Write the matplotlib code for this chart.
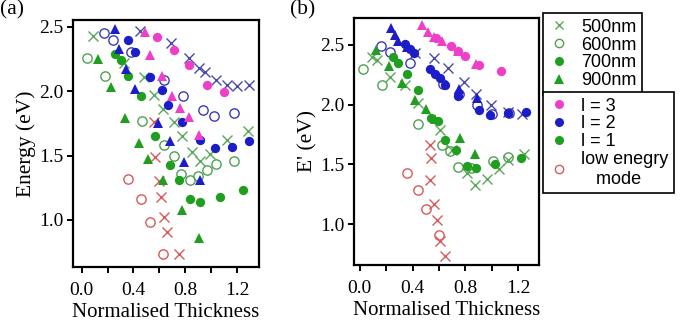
import matplotlib
matplotlib.use("Agg")
import matplotlib.pyplot as plt
from matplotlib.lines import Line2D
from matplotlib.ticker import MultipleLocator, FixedLocator

# ---------------- data: panel (a) ----------------
a_l3_700_x = [0.58, 0.71, 0.83, 0.97, 1.10]
a_l3_700_y = [2.42, 2.32, 2.20, 2.05, 1.99]
a_l3_900_x = [0.49, 0.53, 0.62, 0.70, 0.76, 0.83, 0.91]
a_l3_900_y = [2.46, 2.28, 2.12, 1.96, 1.87, 1.80, 1.66]

a_l2_500_x = [0.45, 0.69, 0.83, 0.91, 0.95, 1.04, 1.12, 1.20, 1.29]
a_l2_500_y = [2.47, 2.37, 2.26, 2.18, 2.15, 2.09, 2.05, 2.04, 2.05]
a_l2_600_x = [0.17, 0.245, 0.38, 0.635, 0.785, 0.94, 1.025, 1.18]
a_l2_600_y = [2.45, 2.40, 2.305, 2.09, 1.965, 1.85, 1.81, 1.83]
a_l2_700_x = [0.36, 0.41, 0.53, 0.62, 0.67, 0.775, 0.915, 1.03, 1.16, 1.29]
a_l2_700_y = [2.40, 2.30, 2.11, 2.01, 1.89, 1.76, 1.62, 1.56, 1.57, 1.61]
a_l2_900_x = [0.26, 0.29, 0.34, 0.41, 0.59, 0.68, 0.79, 0.915]
a_l2_900_y = [2.48, 2.33, 2.175, 2.02, 1.75, 1.61, 1.45, 1.31]

a_l1_500_x = [0.09, 0.33, 0.48, 0.555, 0.63, 0.71, 0.775, 0.855, 0.915, 0.99, 1.125, 1.285]
a_l1_500_y = [2.43, 2.215, 2.11, 1.97, 1.865, 1.76, 1.65, 1.53, 1.46, 1.51, 1.62, 1.69]
a_l1_600_x = [0.04, 0.18, 0.465, 0.635, 0.71, 0.77, 0.84, 0.895, 0.97, 1.035, 1.175]
a_l1_600_y = [2.26, 2.115, 1.77, 1.58, 1.50, 1.355, 1.31, 1.345, 1.385, 1.435, 1.46]
a_l1_700_x = [0.26, 0.30, 0.36, 0.455, 0.565, 0.685, 0.755, 0.84, 0.915, 1.065, 1.25]
a_l1_700_y = [2.29, 2.24, 2.12, 1.96, 1.65, 1.43, 1.31, 1.16, 1.14, 1.175, 1.23]
a_l1_900_x = [0.13, 0.23, 0.335, 0.44, 0.515, 0.625, 0.775, 0.91]
a_l1_900_y = [2.25, 2.03, 1.79, 1.60, 1.47, 1.31, 1.08, 0.86]

a_low_500_x = [0.555, 0.565, 0.595, 0.61, 0.635, 0.66, 0.75]
a_low_500_y = [1.76, 1.49, 1.305, 1.18, 1.02, 0.91, 0.735]
a_low_600_x = [0.36, 0.46, 0.525, 0.628]
a_low_600_y = [1.32, 1.16, 0.985, 0.735]

# ---------------- data: panel (b) ----------------
b_l3_700_x = [0.58, 0.69, 0.745, 0.80, 0.90, 1.07]
b_l3_700_y = [2.56, 2.49, 2.45, 2.41, 2.33, 2.28]
b_l3_900_x = [0.47, 0.52, 0.56, 0.62, 0.74, 0.88]
b_l3_900_y = [2.67, 2.61, 2.57, 2.53, 2.45, 2.34]

b_l2_500_x = [0.42, 0.56, 0.67, 0.79, 0.88, 0.99, 1.12, 1.23]
b_l2_500_y = [2.43, 2.39, 2.31, 2.19, 2.09, 2.00, 1.94, 1.92]
b_l2_600_x = [0.16, 0.23, 0.38, 0.63, 0.75, 0.89, 1.00, 1.13]
b_l2_600_y = [2.49, 2.44, 2.35, 2.17, 2.09, 2.00, 1.92, 1.93]
b_l2_700_x = [0.34, 0.38, 0.41, 0.53, 0.57, 0.61, 0.645, 0.745, 0.90, 0.985, 1.12, 1.255]
b_l2_700_y = [2.51, 2.47, 2.43, 2.30, 2.26, 2.22, 2.165, 2.07, 1.955, 1.915, 1.93, 1.94]
b_l2_900_x = [0.24, 0.265, 0.29, 0.36, 0.75, 0.885]
b_l2_900_y = [2.64, 2.58, 2.53, 2.48, 2.13, 2.06]

b_l1_500_x = [0.09, 0.13, 0.23, 0.34, 0.44, 0.61, 0.70, 0.81, 0.87, 0.96, 1.05, 1.12, 1.24]
b_l1_500_y = [2.40, 2.37, 2.23, 2.165, 2.01, 1.79, 1.62, 1.43, 1.33, 1.38, 1.46, 1.54, 1.59]
b_l1_600_x = [0.025, 0.165, 0.44, 0.62, 0.68, 0.745, 0.84, 1.01, 1.12]
b_l1_600_y = [2.30, 2.165, 1.84, 1.66, 1.61, 1.48, 1.47, 1.53, 1.56]
b_l1_700_x = [0.25, 0.29, 0.355, 0.44, 0.54, 0.59, 0.645, 0.73, 0.81, 0.88, 1.02, 1.22]
b_l1_700_y = [2.40, 2.35, 2.26, 2.12, 1.885, 1.86, 1.70, 1.62, 1.49, 1.47, 1.50, 1.55]
b_l1_900_x = [0.125, 0.22, 0.32, 0.42, 0.50, 0.57, 0.76, 0.875]
b_l1_900_y = [2.46, 2.32, 2.18, 2.04, 1.96, 1.88, 1.72, 1.59]

b_low_500_x = [0.53, 0.54, 0.53, 0.565, 0.585, 0.605, 0.645]
b_low_500_y = [1.66, 1.55, 1.37, 1.17, 1.03, 0.86, 0.735]
b_low_600_x = [0.355, 0.44, 0.505, 0.60]
b_low_600_y = [1.43, 1.285, 1.125, 0.91]

x_ticks = [0.0, 0.4, 0.8, 1.2]
x_tick_labels = ["0.0", "0.4", "0.8", "1.2"]
y_ticks = [1.0, 1.5, 2.0, 2.5]
y_tick_labels = ["1.0", "1.5", "2.0", "2.5"]
thick_labels = ["500nm", "600nm", "700nm", "900nm"]
mode_labels = ["l = 3", "l = 2", "l = 1", "low enegry\n   mode"]

# ---------------- styles ----------------
PINK = "#ee3fc8"
BLUE = "#1c1cc8"
GREEN = "#1f9e1f"
RED = "#d85a5a"
BLUE_X = "#4a4aa8"
GREEN_X = "#5aa85a"
BLUE_O = "#3a3ab8"
GREEN_O = "#4fa24f"

serif = "Liberation Serif"
sans = "Liberation Sans"

fig = plt.figure(figsize=(6.86, 3.28), dpi=100)
axA = fig.add_axes([73 / 686, 1 - 267 / 328, (259 - 73) / 686, (267 - 20) / 328])
axB = fig.add_axes([354 / 686, 1 - 265 / 328, (539 - 354) / 686, (265 - 18) / 328])

MS = 6.2


def plot_cross(ax, x, y, c):
    ax.plot(x, y, linestyle="none", marker="x", ms=MS + 1, mew=1.0, color=c, zorder=3)


def plot_open(ax, x, y, c):
    ax.plot(x, y, linestyle="none", marker="o", ms=MS + 0.5, mew=1.0, mfc="none", mec=c, zorder=3)


def plot_fill(ax, x, y, c):
    ax.plot(x, y, linestyle="none", marker="o", ms=MS + 0.5, mew=0, color=c, zorder=4)


def plot_tri(ax, x, y, c):
    ax.plot(x, y, linestyle="none", marker="^", ms=MS + 0.5, mew=0, color=c, zorder=4)


# panel a
plot_cross(axA, a_l2_500_x, a_l2_500_y, BLUE_X)
plot_cross(axA, a_l1_500_x, a_l1_500_y, GREEN_X)
plot_cross(axA, a_low_500_x, a_low_500_y, RED)
plot_open(axA, a_l2_600_x, a_l2_600_y, BLUE_O)
plot_open(axA, a_l1_600_x, a_l1_600_y, GREEN_O)
plot_open(axA, a_low_600_x, a_low_600_y, RED)
plot_fill(axA, a_l3_700_x, a_l3_700_y, PINK)
plot_fill(axA, a_l2_700_x, a_l2_700_y, BLUE)
plot_fill(axA, a_l1_700_x, a_l1_700_y, GREEN)
plot_tri(axA, a_l3_900_x, a_l3_900_y, PINK)
plot_tri(axA, a_l2_900_x, a_l2_900_y, BLUE)
plot_tri(axA, a_l1_900_x, a_l1_900_y, GREEN)

# panel b
plot_cross(axB, b_l2_500_x, b_l2_500_y, BLUE_X)
plot_cross(axB, b_l1_500_x, b_l1_500_y, GREEN_X)
plot_cross(axB, b_low_500_x, b_low_500_y, RED)
plot_open(axB, b_l2_600_x, b_l2_600_y, BLUE_O)
plot_open(axB, b_l1_600_x, b_l1_600_y, GREEN_O)
plot_open(axB, b_low_600_x, b_low_600_y, RED)
plot_fill(axB, b_l3_700_x, b_l3_700_y, PINK)
plot_fill(axB, b_l2_700_x, b_l2_700_y, BLUE)
plot_fill(axB, b_l1_700_x, b_l1_700_y, GREEN)
plot_tri(axB, b_l3_900_x, b_l3_900_y, PINK)
plot_tri(axB, b_l2_900_x, b_l2_900_y, BLUE)
plot_tri(axB, b_l1_900_x, b_l1_900_y, GREEN)

axA.set_xlim(-0.067, 1.37)
axA.set_ylim(0.635, 2.552)
axB.set_xlim(-0.043, 1.356)
axB.set_ylim(0.657, 2.726)

for ax, ylab in ((axA, "Energy (eV)"), (axB, "E' (eV)")):
    for sp in ax.spines.values():
        sp.set_linewidth(1.6)
        sp.set_color("black")
    ax.xaxis.set_major_locator(FixedLocator(x_ticks))
    ax.set_xticklabels(x_tick_labels)
    ax.xaxis.set_minor_locator(MultipleLocator(0.2))
    ax.yaxis.set_major_locator(FixedLocator(y_ticks))
    ax.set_yticklabels(y_tick_labels)
    ax.tick_params(which="both", direction="out", length=4, width=1.4, color="black")
    ax.tick_params(axis="y", which="major", labelsize=14, pad=3)
    ax.tick_params(axis="x", which="major", labelsize=14, pad=7)
    for t in ax.get_xticklabels() + ax.get_yticklabels():
        t.set_fontfamily(serif)
    ax.set_xlabel("Normalised Thickness", fontsize=15, fontfamily=serif, labelpad=3)
    ax.set_ylabel(ylab, fontsize=15.5, fontfamily=serif, labelpad=2)

fig.text(0.0, 0.998, "(a)", fontsize=15.5, fontfamily=serif, ha="left", va="top")
fig.text(290 / 686, 0.998, "(b)", fontsize=15.5, fontfamily=serif, ha="left", va="top")

# legends
h1 = [
    Line2D([], [], linestyle="none", marker="x", ms=6, mew=1.0, color=GREEN_X),
    Line2D([], [], linestyle="none", marker="o", ms=6, mew=1.0, mfc="none", mec=GREEN_O),
    Line2D([], [], linestyle="none", marker="o", ms=6.5, mew=0, color=GREEN),
    Line2D([], [], linestyle="none", marker="^", ms=6.5, mew=0, color=GREEN),
]
h2 = [
    Line2D([], [], linestyle="none", marker="o", ms=6.5, mew=0, color=PINK),
    Line2D([], [], linestyle="none", marker="o", ms=6.5, mew=0, color=BLUE),
    Line2D([], [], linestyle="none", marker="o", ms=6.5, mew=0, color=GREEN),
    Line2D([], [], linestyle="none", marker="o", ms=6, mew=1.0, mfc="none", mec=RED),
]
common = dict(frameon=True, fancybox=False, shadow=False, handlelength=1.1,
              handletextpad=0.7, borderpad=0.32, labelspacing=0.04,
              prop={"family": sans, "size": 13}, borderaxespad=0)
leg1 = fig.legend(h1, thick_labels, loc="upper left", bbox_to_anchor=(543 / 686, 1 - 13 / 328), **common)
leg2 = fig.legend(h2, mode_labels, loc="upper left", bbox_to_anchor=(543 / 686, 1 - 92 / 328), **common)
for lg in (leg1, leg2):
    fr = lg.get_frame()
    fr.set_edgecolor("black")
    fr.set_linewidth(1.2)
    fr.set_alpha(1)

fig.savefig("out.png", dpi=100)
